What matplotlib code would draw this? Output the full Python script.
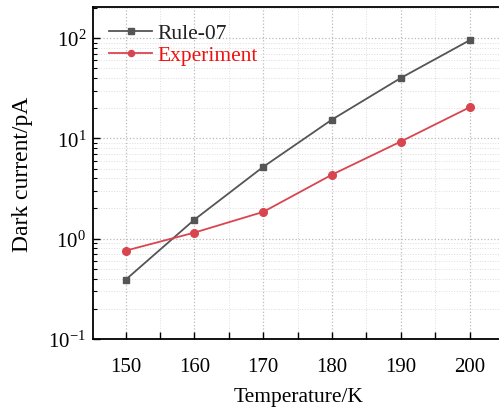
import matplotlib
matplotlib.use("Agg")
import matplotlib.pyplot as plt
from matplotlib.ticker import MultipleLocator, LogLocator, NullFormatter

plt.rcParams['font.family'] = ['Liberation Serif', 'DejaVu Serif']
plt.rcParams['mathtext.fontset'] = 'stix'

temperature = [150, 160, 170, 180, 190, 200]
rule07 = [0.39, 1.55, 5.2, 15.4, 40, 95]
experiment = [0.76, 1.15, 1.85, 4.35, 9.3, 20.4]

fig = plt.figure(figsize=(4.99, 4.10), dpi=100)
ax = fig.add_axes([93/499, 70/410, 1 - 93/499 + 0.01, 332/410])

ax.plot(temperature, rule07, color='#555555', marker='s', markersize=5, lw=1.3, label='Rule-07')
ax.plot(temperature, experiment, color='#d9454f', marker='o', markersize=5.5, lw=1.3, label='Experiment')

ax.set_yscale('log')
ax.set_xlim(145.25, 205)
ax.set_ylim(0.1, 204)
ax.xaxis.set_major_locator(MultipleLocator(10))
ax.xaxis.set_minor_locator(MultipleLocator(5))
ax.yaxis.set_major_locator(LogLocator(base=10, numticks=10))
ax.yaxis.set_minor_locator(LogLocator(base=10, subs=range(2, 10), numticks=20))
ax.yaxis.set_minor_formatter(NullFormatter())

ax.grid(True, which='major', color='#bbbbbb', linestyle=':', lw=0.9)
ax.grid(True, which='minor', color='#dddddd', linestyle=':', lw=0.7)
ax.set_axisbelow(True)

ax.tick_params(which='both', direction='in', labelsize=15, top=False, right=False)
ax.tick_params(which='major', length=5, width=1)
ax.tick_params(which='minor', length=3, width=0.8)
ax.tick_params(axis='x', which='minor', length=5, width=1)
ax.tick_params(axis='x', pad=13)
ax.tick_params(axis='y', pad=5)
for s in ['left', 'bottom', 'top']:
    ax.spines[s].set_linewidth(1.3)
ax.spines['right'].set_visible(False)

ax.set_xlabel('Temperature/K', fontsize=15.5, labelpad=8)
ax.set_ylabel('Dark current/pA', fontsize=17, labelpad=11)

leg = ax.legend(loc='upper left', frameon=False, fontsize=15.5, handlelength=2.0,
                handletextpad=0.25, borderaxespad=0.45, borderpad=0.3, labelspacing=0.1,
                markerscale=0.8)
for t, c in zip(leg.get_texts(), ['#222222', '#ee1111']):
    t.set_color(c)

fig.savefig('out.png', dpi=100)
